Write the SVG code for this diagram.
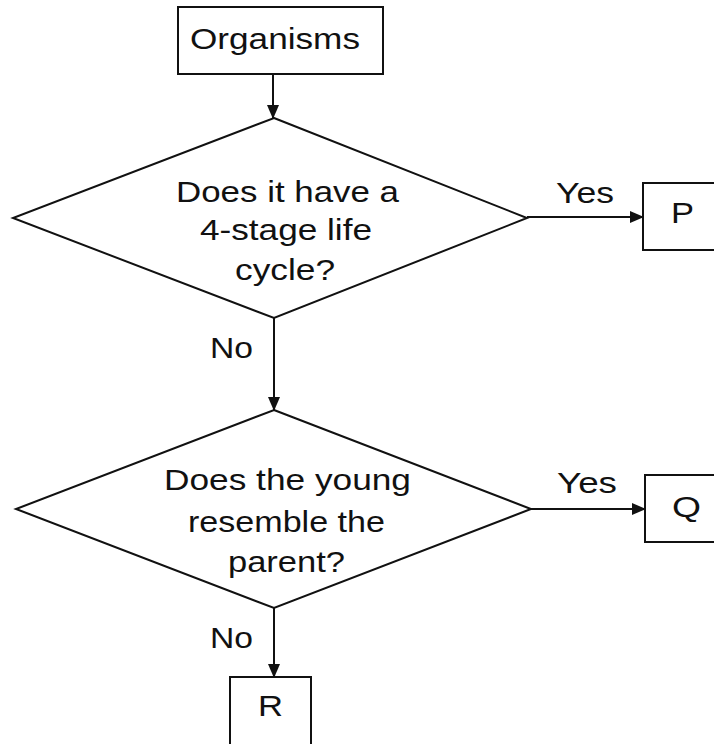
<svg xmlns="http://www.w3.org/2000/svg" width="714" height="744" viewBox="0 0 714 744">
<defs>
<marker id="ah" markerWidth="14" markerHeight="12" refX="13" refY="6" orient="auto" markerUnits="userSpaceOnUse">
<path d="M0,0 L14,6 L0,12 Z" fill="#111"/>
</marker>
<style>
.s{fill:#fff;stroke:#111;stroke-width:2}
.t{font-family:"Liberation Sans",Arial,sans-serif;font-size:29px;fill:#111}
.c{stroke:#111;stroke-width:2;fill:none}
</style>
</defs>
<rect width="714" height="744" fill="#fff"/>
<g id="organisms">
<rect class="s" x="178" y="7" width="205" height="67"/>
<text class="t" x="190" y="49" textLength="170" lengthAdjust="spacingAndGlyphs">Organisms</text>
</g>
<g id="q1">
<polygon class="s" points="274,118 527,218 274,318 13,218"/>
<text class="t" x="176" y="202" textLength="223" lengthAdjust="spacingAndGlyphs">Does it have a</text>
<text class="t" x="200" y="240" textLength="172" lengthAdjust="spacingAndGlyphs">4-stage life</text>
<text class="t" x="235" y="280" textLength="100" lengthAdjust="spacingAndGlyphs">cycle?</text>
</g>
<g id="p">
<rect class="s" x="643" y="183" width="75" height="67"/>
<text class="t" x="671" y="223" textLength="23" lengthAdjust="spacingAndGlyphs">P</text>
</g>
<g id="q2">
<polygon class="s" points="274,410 531,509 274,608 16,509"/>
<text class="t" x="164" y="490" textLength="247" lengthAdjust="spacingAndGlyphs">Does the young</text>
<text class="t" x="188" y="532" textLength="197" lengthAdjust="spacingAndGlyphs">resemble the</text>
<text class="t" x="228" y="572" textLength="117" lengthAdjust="spacingAndGlyphs">parent?</text>
</g>
<g id="q">
<rect class="s" x="645" y="475" width="75" height="67"/>
<text class="t" x="672" y="517" textLength="29" lengthAdjust="spacingAndGlyphs">Q</text>
</g>
<g id="r">
<rect class="s" x="230" y="677" width="81" height="70"/>
<text class="t" x="258" y="716" textLength="25" lengthAdjust="spacingAndGlyphs">R</text>
</g>
<g id="connectors">
<line class="c" x1="273" y1="74" x2="273" y2="118" marker-end="url(#ah)"/>
<line class="c" x1="527" y1="217" x2="643" y2="217" marker-end="url(#ah)"/>
<text class="t" x="556" y="203" textLength="58" lengthAdjust="spacingAndGlyphs">Yes</text>
<line class="c" x1="274" y1="318" x2="274" y2="410" marker-end="url(#ah)"/>
<text class="t" x="210" y="358" textLength="43" lengthAdjust="spacingAndGlyphs">No</text>
<line class="c" x1="531" y1="509" x2="645" y2="509" marker-end="url(#ah)"/>
<text class="t" x="557" y="493" textLength="60" lengthAdjust="spacingAndGlyphs">Yes</text>
<line class="c" x1="274" y1="608" x2="274" y2="677" marker-end="url(#ah)"/>
<text class="t" x="210" y="648" textLength="43" lengthAdjust="spacingAndGlyphs">No</text>
</g>
</svg>
